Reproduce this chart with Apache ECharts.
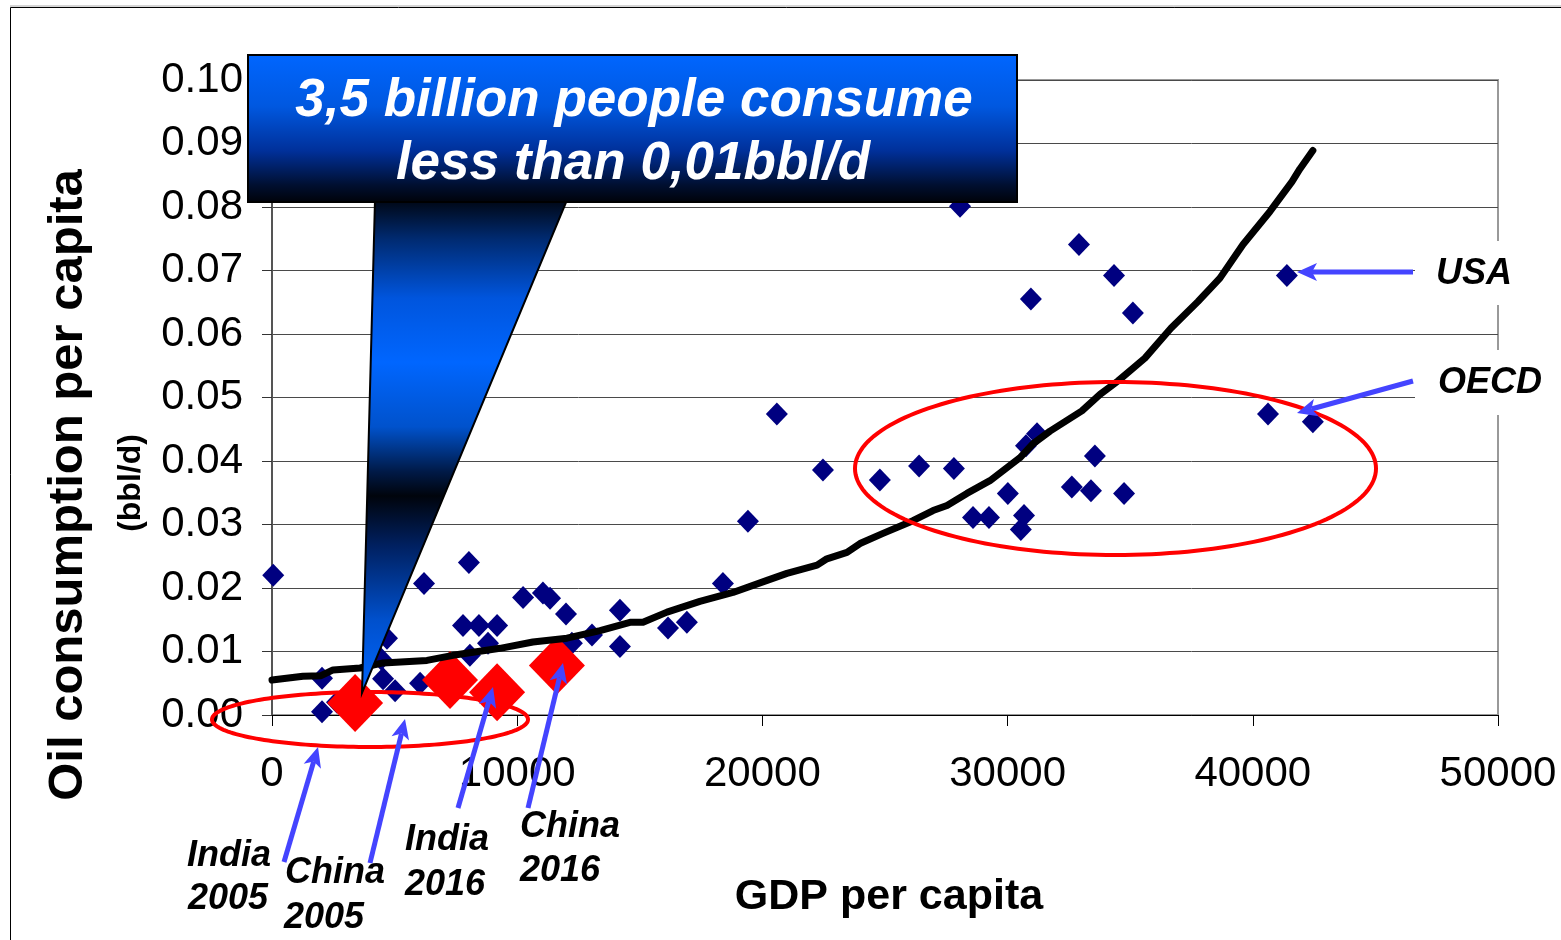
<!DOCTYPE html>
<html>
<head>
<meta charset="utf-8">
<title>Oil consumption vs GDP per capita</title>
<script src="https://cdn.jsdelivr.net/npm/echarts@6/dist/echarts.min.js"></script>
<style>
  html, body { margin: 0; padding: 0; background: #fff; }
  #chart { width: 1561px; height: 940px; }
</style>
</head>
<body>
<div id="chart"></div>
<script>
// GDP per capita (USD) and oil consumption per capita (bbl/d), one entry per country
const countryGdp = [50, 2040, 2040, 2650, 4690, 4450, 4530, 5020, 6200, 6040,
  8030, 7790, 8440, 9180, 8070, 8810, 10240, 11050, 11340, 11990,
  12230, 13050, 14190, 14190, 16150, 16920, 18390, 19410, 20590, 22470,
  24790, 26390, 27810, 28060, 28590, 29240, 30010, 30670, 30540, 31200,
  30750, 30950, 32910, 32620, 33400, 33560, 34340, 34750, 35110, 40620,
  41390, 42450];
const countryOil = [0.0220, 0.0058, 0.0005, 0.0020, 0.0121, 0.0088, 0.0057, 0.0038, 0.0207, 0.0050,
  0.0240, 0.0141, 0.0141, 0.0141, 0.0094, 0.0113, 0.0185, 0.0192, 0.0184, 0.0159,
  0.0113, 0.0126, 0.0165, 0.0108, 0.0137, 0.0146, 0.0207, 0.0305, 0.0474, 0.0386,
  0.0370, 0.0392, 0.0388, 0.0801, 0.0311, 0.0311, 0.0349, 0.0314, 0.0292, 0.0443,
  0.0424, 0.0655, 0.0741, 0.0359, 0.0353, 0.0408, 0.0692, 0.0349, 0.0633, 0.0474,
  0.0692, 0.0462];

// China and India, 2005 and 2016
const focusGdp = [3390, 7260, 9180, 11620];
const focusOil = [0.0019, 0.0055, 0.0036, 0.0078];

// Fitted trend of oil use against income
const trendGdp = [0, 1260, 2000, 2490, 3590, 4530, 6320, 7380, 9300, 10640,
  12030, 13380, 14600, 15130, 16110, 17450, 18800, 20190, 21000, 22230,
  22630, 23450, 23980, 24920, 26140, 26960, 27530, 28340, 29280, 30500,
  31030, 31730, 33030, 33770, 34500, 35600, 36660, 37760, 38660, 39600,
  40700, 41600, 41920, 42450];
const trendOil = [0.0055, 0.0061, 0.0062, 0.0071, 0.0074, 0.0082, 0.0086, 0.0094, 0.0105, 0.0115,
  0.0121, 0.0133, 0.0146, 0.0146, 0.0162, 0.0179, 0.0193, 0.0212, 0.0223, 0.0236,
  0.0246, 0.0256, 0.0270, 0.0286, 0.0306, 0.0322, 0.0330, 0.0349, 0.0369, 0.0405,
  0.0427, 0.0447, 0.0479, 0.0505, 0.0526, 0.0562, 0.0609, 0.0651, 0.0688, 0.0741,
  0.0793, 0.0840, 0.0860, 0.0889];

// Axis ranges and tick steps
const xRange = [0, 50000, 10000];
const yRange = [0, 0.10, 0.01];

const FONT = "'Liberation Sans', Arial, Helvetica, sans-serif";
const ARROW_BLUE = '#4444ff';

const zip = (a, b) => a.map((v, i) => [v, b[i]]);

const chart = echarts.init(document.getElementById('chart'), null, { renderer: 'canvas' });

// ---- annotation helpers (pixel layout) ----
function arrowParts(x1, y1, x2, y2, width) {
  const dx = x2 - x1, dy = y2 - y1;
  const L = Math.hypot(dx, dy);
  const ux = dx / L, uy = dy / L;
  const hl = 20, hw = 9;
  const bx = x2 - ux * hl, by = y2 - uy * hl;
  const nx = x2 - ux * hl * 0.75, ny = y2 - uy * hl * 0.75;
  return [
    { type: 'line', z: 120, shape: { x1: x1, y1: y1, x2: nx, y2: ny },
      style: { stroke: ARROW_BLUE, lineWidth: width || 5 } },
    { type: 'polygon', z: 121, shape: { points: [[x2, y2], [bx - uy * hw, by + ux * hw], [nx, ny], [bx + uy * hw, by - ux * hw]] },
      style: { fill: ARROW_BLUE } }
  ];
}

function ellipseRing(cx, cy, rx, ry) {
  const pts = [];
  for (let i = 0; i < 180; i++) {
    const t = (i / 180) * Math.PI * 2;
    pts.push([cx + rx * Math.cos(t), cy + ry * Math.sin(t)]);
  }
  return { type: 'polygon', z: 110, shape: { points: pts },
    style: { fill: null, stroke: '#ff0000', lineWidth: 4 } };
}

function label(text, x, y, size, opts) {
  return Object.assign({
    type: 'text', z: 130, x: x, y: y,
    style: {
      text: text, x: 0, y: 0,
      font: (opts && opts.font) || ('italic bold ' + size + 'px ' + FONT),
      fill: (opts && opts.fill) || '#000',
      align: 'center', verticalAlign: 'middle',
      textAlign: 'center', textVerticalAlign: 'middle'
    }
  }, (opts && opts.extra) || {});
}

const graphics = [];

// outer frame
graphics.push({ type: 'line', z: 1, shape: { x1: 10, y1: 6, x2: 1561, y2: 6 }, style: { stroke: '#aaa', lineWidth: 1 } });
graphics.push({ type: 'rect', z: 1, shape: { x: 10.5, y: 7.5, width: 1600, height: 1000 },
  style: { fill: null, stroke: '#000', lineWidth: 1 } });

// axis titles
graphics.push(label('Oil consumption per capita', 68, 485, 49,
  { font: 'bold 49px ' + FONT, extra: { rotation: Math.PI / 2 } }));
graphics.push(label('(bbl/d)', 131, 483, 32,
  { font: 'bold 32px ' + FONT, extra: { rotation: Math.PI / 2 } }));
graphics.push(label('GDP per capita', 889, 897, 43, { font: 'bold 43px ' + FONT }));

// highlighted groups
graphics.push(ellipseRing(1115.5, 468.5, 260.5, 86.5));
graphics.push(ellipseRing(370, 719.5, 158, 27.5));

// USA / OECD tags
graphics.push({ type: 'rect', z: 125, shape: { x: 1415, y: 241, width: 130, height: 64 }, style: { fill: '#fff' } });
graphics.push({ type: 'rect', z: 125, shape: { x: 1415, y: 350, width: 146, height: 65 }, style: { fill: '#fff' } });
graphics.push(label('USA', 1474, 274, 36));
graphics.push(label('OECD', 1490, 383, 36));
graphics.push(...arrowParts(1413, 272, 1297, 272));
graphics.push(...arrowParts(1413, 381, 1297, 413));

// China / India tags
graphics.push(label('India', 229, 856, 36));
graphics.push(label('2005', 228, 899, 36));
graphics.push(label('China', 335, 873, 36));
graphics.push(label('2005', 324, 918, 36));
graphics.push(label('India', 447, 840, 36));
graphics.push(label('2016', 445, 885, 36));
graphics.push(label('China', 570, 827, 36));
graphics.push(label('2016', 560, 871, 36));
graphics.push(...arrowParts(284, 862, 318, 747));
graphics.push(...arrowParts(370, 863, 405, 719));
graphics.push(...arrowParts(458, 808, 493, 687));
graphics.push(...arrowParts(528, 808, 563, 663));

// callout box with pointer
graphics.push({
  type: 'polygon', z: 140,
  shape: { points: [[375, 200], [567, 200], [362, 693]] },
  style: {
    stroke: '#000', lineWidth: 2,
    fill: { type: 'linear', x: 0, y: 0, x2: 0, y2: 1, colorStops: [
      { offset: 0.00, color: '#000612' },
      { offset: 0.08, color: '#002a70' },
      { offset: 0.20, color: '#0055dd' },
      { offset: 0.33, color: '#0066ff' },
      { offset: 0.46, color: '#0052cc' },
      { offset: 0.55, color: '#001a48' },
      { offset: 0.60, color: '#00040c' },
      { offset: 0.70, color: '#002060' },
      { offset: 0.85, color: '#0050cc' },
      { offset: 1.00, color: '#0066ff' }
    ] }
  }
});
graphics.push({
  type: 'rect', z: 141,
  shape: { x: 248, y: 55, width: 769, height: 147 },
  style: {
    stroke: '#000', lineWidth: 2,
    fill: { type: 'linear', x: 0, y: 0, x2: 0, y2: 1, colorStops: [
      { offset: 0.00, color: '#0066ff' },
      { offset: 0.35, color: '#0058e0' },
      { offset: 0.65, color: '#00309a' },
      { offset: 0.88, color: '#000f30' },
      { offset: 1.00, color: '#000208' }
    ] }
  }
});
graphics.push(label('3,5 billion people consume', 634, 101, 53, { fill: '#fff', extra: { z: 150 } }));
graphics.push(label('less than 0,01bbl/d', 633, 164, 53, { fill: '#fff', extra: { z: 150 } }));

const option = {
  animation: false,
  backgroundColor: '#fff',
  grid: {
    left: 272, right: 63, top: 80, bottom: 225,
    containLabel: false, outerBoundsMode: 'none',
    show: true, borderColor: '#999', borderWidth: 2, backgroundColor: 'transparent'
  },
  xAxis: {
    type: 'value', min: xRange[0], max: xRange[1], interval: xRange[2],
    axisLine: { show: true, onZero: false, lineStyle: { color: '#000', width: 1 } },
    axisTick: { show: true, length: 11, lineStyle: { color: '#000', width: 1 } },
    splitLine: { show: false },
    axisLabel: { margin: 38, color: '#000', fontFamily: FONT, fontSize: 42,
      showMinLabel: true, showMaxLabel: true, hideOverlap: false,
      formatter: v => String(v) }
  },
  yAxis: {
    type: 'value', min: yRange[0], max: yRange[1], interval: yRange[2],
    axisLine: { show: true, lineStyle: { color: '#555', width: 2 } },
    axisTick: { show: true, length: 10, lineStyle: { color: '#333', width: 1 } },
    splitLine: { show: true, lineStyle: { color: '#4a4a4a', width: 1 } },
    axisLabel: { margin: 29, color: '#000', fontFamily: FONT, fontSize: 42,
      showMinLabel: true, showMaxLabel: true,
      formatter: v => v.toFixed(2) }
  },
  series: [
    {
      name: 'Countries', type: 'scatter', z: 2,
      symbol: 'diamond', symbolSize: [22, 23],
      itemStyle: { color: '#000080', opacity: 1 },
      emphasis: { disabled: true },
      data: zip(countryGdp, countryOil)
    },
    {
      name: 'China / India', type: 'scatter', z: 3,
      symbol: 'diamond', symbolSize: [56, 58],
      itemStyle: { color: '#ff0000', opacity: 1 },
      emphasis: { disabled: true },
      data: zip(focusGdp, focusOil)
    },
    {
      name: 'Trend', type: 'line', z: 4,
      symbol: 'none', smooth: false,
      lineStyle: { color: '#000', width: 7, join: 'round', cap: 'round' },
      emphasis: { disabled: true },
      data: zip(trendGdp, trendOil)
    }
  ],
  graphic: graphics
};

chart.setOption(option);
</script>
</body>
</html>
